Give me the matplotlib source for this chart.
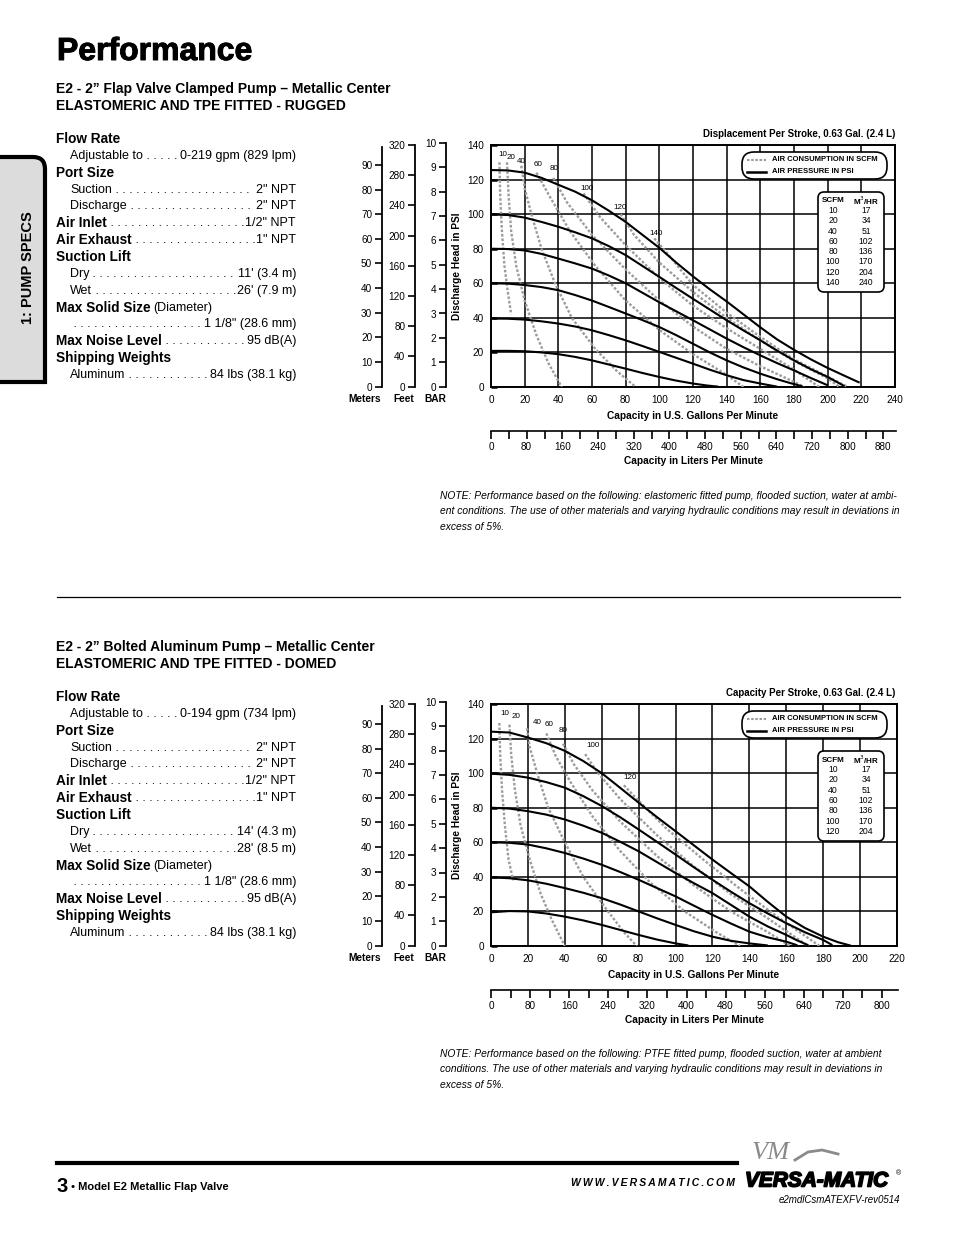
import matplotlib
matplotlib.use("Agg")
import matplotlib.pyplot as plt
import matplotlib.patheffects as pe
from matplotlib.patches import FancyBboxPatch, PathPatch
from matplotlib.path import Path
from matplotlib.ticker import MultipleLocator

W, H = 954, 1235
MAIN = ['Liberation Sans', 'DejaVu Sans']
NARROW = ['Liberation Sans Narrow', 'Liberation Sans', 'DejaVu Sans']
plt.rcParams['font.family'] = MAIN

# ---------------- data ----------------
# pump 1 : E2 flap valve clamped, air pressure curves (gpm, psi)
pump1_psi120 = [(0, 125.5), (10, 125.3), (20, 124), (30, 121), (40, 117), (50, 113), (60, 108), (70, 102),
                (80, 95.5), (90, 88), (100, 80.5), (110, 72), (120, 64), (130, 56.5), (140, 49.5), (150, 42),
                (160, 34.5), (170, 27.5), (180, 21.5), (190, 16), (200, 11), (210, 6.5), (219, 2.5)]
pump1_psi100 = [(0, 99.8), (10, 99.5), (20, 98), (30, 95.5), (40, 92.7), (50, 89.5), (60, 86), (70, 81.5),
                (80, 76.3), (90, 70), (100, 63.7), (110, 57.3), (120, 51), (130, 44.8), (140, 38.6),
                (150, 32.7), (160, 27), (170, 21), (180, 15.4), (190, 10.3), (200, 5.8), (210, 0.5)]
pump1_psi80 = [(0, 80), (10, 79.8), (20, 79), (30, 77), (40, 74.3), (50, 71.5), (60, 68.5), (70, 64.5),
               (80, 60), (90, 54.5), (100, 49), (110, 43.8), (120, 38.6), (130, 33.3), (140, 28),
               (150, 23), (160, 18.3), (170, 13.8), (180, 9.6), (190, 5.2), (200, 1)]
pump1_psi60 = [(0, 60), (10, 59.8), (20, 59), (30, 57.8), (40, 56), (50, 53.2), (60, 50), (70, 46.3),
               (80, 42.5), (90, 38.7), (100, 34.7), (110, 30), (120, 25), (130, 20), (140, 15.4),
               (150, 11.3), (160, 7.7), (170, 4.5), (178, 2.2), (185, 0.4)]
pump1_psi40 = [(0, 39.6), (10, 39.5), (20, 39), (30, 38), (40, 36.7), (50, 35), (60, 32.8), (70, 30),
               (80, 27), (90, 23.7), (100, 20.3), (110, 16.9), (120, 13.5), (130, 10), (140, 6.8),
               (150, 4), (160, 2), (170, 0.2)]
pump1_psi20 = [(0, 20.9), (10, 20.9), (20, 20.7), (30, 20), (40, 19), (50, 17.4), (60, 15.4), (70, 13),
               (80, 10.6), (90, 8.1), (100, 5.8), (110, 3.7), (120, 2), (128, 0.9), (135, 0.2)]
# pump 1 : air consumption curves (gpm, psi)
pump1_scfm10 = [(5, 130), (5.5, 110), (6.5, 90), (8, 70), (10, 55), (12, 42)]
pump1_scfm20 = [(9.5, 130), (10.5, 110), (12, 90), (15, 70), (20, 50), (27, 30), (34, 14), (42, 0)]
pump1_scfm40 = [(18, 128), (20, 115), (24, 100), (30, 80), (38, 60), (48, 40), (62, 22), (75, 9), (86, 0)]
pump1_scfm60 = [(27, 124), (35, 110), (47, 90), (62, 70), (80, 50), (100, 33), (120, 19), (140, 7), (150, 0)]
pump1_scfm80 = [(37, 121), (45, 107), (60, 88), (80, 68), (100, 50), (120, 35), (140, 22), (160, 12),
                (180, 3), (186, 0)]
pump1_scfm100 = [(55, 112), (65, 98), (80, 82), (100, 63), (120, 47), (140, 34), (160, 22), (180, 10), (195, 0)]
pump1_scfm120 = [(77, 100), (85, 88), (100, 72), (120, 55), (140, 40), (160, 27), (180, 15), (200, 5), (207, 0)]
pump1_scfm140 = [(97, 86), (105, 77), (120, 59), (140, 43), (160, 29), (180, 16), (200, 6), (212, 0)]
pump1_scfm_labels = [('10', 4.2, 134.3), ('20', 9.5, 133), ('40', 15.4, 130.2), ('60', 25.5, 128.5),
                     ('80', 35, 126.3), ('100', 53, 115), ('120', 73, 104), ('140', 94, 89)]

# pump 2 : E2 bolted aluminum, air pressure curves (gpm, psi)
pump2_psi120 = [(0, 124), (10, 123.5), (20, 120.6), (30, 117.3), (40, 112.9), (50, 107), (60, 100),
                (70, 91.5), (80, 82.9), (90, 74.5), (100, 66.4), (110, 58.2), (120, 50), (130, 42.2),
                (140, 34.5), (150, 25.5), (160, 17), (170, 10.5), (180, 5.4), (188, 2.2), (195, 0.2)]
pump2_psi100 = [(0, 99.7), (10, 99), (20, 97.4), (30, 94.8), (40, 91.6), (50, 86.7), (60, 81),
                (70, 74.5), (80, 67.4), (90, 60.2), (100, 52.9), (110, 45.5), (120, 38.3), (130, 31.4),
                (140, 24.8), (150, 18.8), (160, 13.2), (170, 8), (180, 3.5), (185, 0.5)]
pump2_psi80 = [(0, 80), (10, 79.5), (20, 78), (30, 76), (40, 73.2), (50, 69.6), (60, 65.5), (70, 60.3),
               (80, 54.8), (90, 48.5), (100, 42.2), (110, 36.3), (120, 30.6), (130, 23.8), (140, 17),
               (150, 11.3), (160, 6.4), (166, 3.2), (172, 0.4)]
pump2_psi60 = [(0, 60), (10, 59.7), (20, 58.7), (30, 56.5), (40, 53.8), (50, 50.6), (60, 47), (70, 42.8),
               (80, 38.3), (90, 33.5), (100, 28.7), (110, 23.3), (120, 18), (130, 13), (140, 8.3),
               (150, 5), (160, 2.5), (166, 0.4)]
pump2_psi40 = [(0, 39.7), (10, 39.2), (20, 38), (30, 36), (40, 33.5), (50, 30.8), (60, 27.7), (70, 24),
               (80, 20), (90, 16), (100, 12.2), (110, 8.5), (120, 5.4), (130, 3), (140, 1.5), (150, 0.3)]
pump2_psi20 = [(0, 19.5), (10, 20.2), (20, 20), (30, 18.8), (40, 17), (50, 14.8), (60, 12.2), (70, 9.3),
               (80, 6.4), (90, 3.7), (100, 1.5), (107, 0.3)]
# pump 2 : air consumption curves (gpm, psi)
pump2_scfm10 = [(4.5, 129), (5, 110), (6, 90), (7.5, 70), (9.5, 50), (12, 38)]
pump2_scfm20 = [(10, 128), (11, 110), (13, 90), (16, 70), (21, 50), (27, 30), (33, 15), (40, 0)]
pump2_scfm40 = [(19.5, 126), (21, 115), (25, 100), (31, 80), (40, 60), (50, 40), (62, 22), (72, 8), (79, 0)]
pump2_scfm60 = [(30, 123), (35, 110), (43, 95), (55, 75), (70, 55), (86, 37), (105, 20), (122, 8), (135, 0)]
pump2_scfm80 = [(39, 117), (45, 105), (55, 90), (70, 72), (90, 52), (110, 35), (130, 20), (150, 8), (162, 0)]
pump2_scfm100 = [(51, 111), (58, 100), (70, 85), (90, 64), (110, 46), (130, 30), (150, 16), (165, 5), (172, 0)]
pump2_scfm120 = [(72, 93), (80, 84), (95, 68), (115, 50), (135, 33), (155, 17), (170, 6), (178, 0)]
pump2_scfm_labels = [('10', 4.9, 134.6), ('20', 11.2, 132.9), ('40', 22.9, 129.4), ('60', 29.3, 128.4),
                     ('80', 36.9, 124.5), ('100', 51.5, 115.8), ('120', 71.7, 97.4)]

# conversion tables
scfm_1 = ['10', '20', '40', '60', '80', '100', '120', '140']
m3hr_1 = ['17', '34', '51', '102', '136', '170', '204', '240']
scfm_2 = scfm_1[:7]
m3hr_2 = m3hr_1[:7]

# specification lists
specs_1 = [('head', 'Flow Rate', None),
           ('item', 'Adjustable to', '0-219 gpm (829 lpm)'),
           ('head', 'Port Size', None),
           ('item', 'Suction', '2" NPT'),
           ('item', 'Discharge', '2" NPT'),
           ('headitem', 'Air Inlet', '1/2" NPT'),
           ('headitem', 'Air Exhaust', '1" NPT'),
           ('head', 'Suction Lift', None),
           ('item', 'Dry', "11' (3.4 m)"),
           ('item', 'Wet', "26' (7.9 m)"),
           ('headnote', 'Max Solid Size', '(Diameter)'),
           ('item', '', '1 1/8" (28.6 mm)'),
           ('headitem', 'Max Noise Level', '95 dB(A)'),
           ('head', 'Shipping Weights', None),
           ('item', 'Aluminum', '84 lbs (38.1 kg)')]
specs_2 = list(specs_1)
specs_2[1] = ('item', 'Adjustable to', '0-194 gpm (734 lpm)')
specs_2[8] = ('item', 'Dry', "14' (4.3 m)")
specs_2[9] = ('item', 'Wet', "28' (8.5 m)")

notes_1 = ["NOTE: Performance based on the following: elastomeric fitted pump, flooded suction, water at ambi-",
           "ent conditions. The use of other materials and varying hydraulic conditions may result in deviations in",
           "excess of 5%."]
notes_2 = ["NOTE: Performance based on the following: PTFE fitted pump, flooded suction, water at ambient",
           "conditions. The use of other materials and varying hydraulic conditions may result in deviations in",
           "excess of 5%."]

GPM_TO_LPM = 3.785

fig = plt.figure(figsize=(W / 100, H / 100), dpi=100)
fig.patch.set_facecolor('white')


def rect(x0, y0, x1, y1):
    # pixel box (y from top) -> figure fraction
    return [x0 / W, 1 - y1 / H, (x1 - x0) / W, (y1 - y0) / H]


def side_scale(x, ybot, ytop, top_val, step, oy):
    a = fig.add_axes(rect(x, ytop + oy, x + 1, ybot + oy))
    a.set_ylim(0, top_val)
    a.set_xticks([])
    for s in ['top', 'right', 'bottom']:
        a.spines[s].set_visible(False)
    a.spines['left'].set_linewidth(1.3)
    a.patch.set_visible(False)
    a.yaxis.set_major_locator(MultipleLocator(step))
    a.tick_params(axis='y', direction='out', length=5, width=1.2, pad=2, labelsize=7.2)
    for t in a.get_yticklabels():
        t.set_family(NARROW)
    return a


def draw_chart(oy, xmax, press, cons, labels):
    x1px = 895 if xmax == 240 else 897
    ax = fig.add_axes(rect(491, 145 + oy, x1px, 387 + oy))
    ax.set_xlim(0, xmax)
    ax.set_ylim(0, 140)
    ax.set_xticks(range(0, xmax + 1, 20))
    ax.set_yticks(range(0, 141, 20))
    ax.grid(True, color='black', lw=1.1)
    ax.set_axisbelow(True)
    for s in ax.spines.values():
        s.set_linewidth(1.4)
    ax.tick_params(axis='x', length=0, pad=6, labelsize=7.2)
    ax.tick_params(axis='y', direction='in', length=4, width=1.8, pad=5, labelsize=7.2)
    for t in ax.get_xticklabels() + ax.get_yticklabels():
        t.set_family(NARROW)
    for c in cons:
        ax.plot([p[0] for p in c], [p[1] for p in c], color='#9c9c9c', lw=1.7,
                ls=(0, (1.1, 0.8)), clip_on=True, zorder=3)
    for c in press:
        ax.plot([p[0] for p in c], [p[1] for p in c], color='black', lw=1.5, zorder=4,
                solid_capstyle='butt')
    for s, x, y in labels:
        ax.text(x, y, s, fontsize=5.8, family=NARROW, ha='left', va='center', zorder=5)
    ax.set_ylabel('Discharge Head in PSI', fontsize=7.3, fontweight='bold', family=NARROW, labelpad=4)
    ax.set_xlabel('Capacity in U.S. Gallons Per Minute', fontsize=7.3, fontweight='bold',
                  family=NARROW, labelpad=4)
    # liters per minute axis
    la = fig.add_axes(rect(491, 430 + oy, x1px + 1, 431 + oy))
    la.set_xlim(0, xmax * GPM_TO_LPM)
    la.set_yticks([])
    for s in ['top', 'left', 'right']:
        la.spines[s].set_visible(False)
    la.spines['bottom'].set_linewidth(1.2)
    la.patch.set_visible(False)
    la.xaxis.set_major_locator(MultipleLocator(80))
    la.xaxis.set_minor_locator(MultipleLocator(40))
    la.tick_params(axis='x', which='both', direction='out', length=6, width=1.2, pad=2, labelsize=7.2)
    for t in la.get_xticklabels():
        t.set_family(NARROW)
    la.set_xlabel('Capacity in Liters Per Minute', fontsize=7.3, fontweight='bold', family=NARROW, labelpad=3)
    # meters / feet / bar scales
    side_scale(382, 386.7, 146.7, 97.4, 10, oy)
    side_scale(415, 386.7, 145, 320, 40, oy)
    side_scale(446, 386.7, 142.7, 10, 1, oy)
    return ax


draw_chart(0, 240,
           [pump1_psi120, pump1_psi100, pump1_psi80, pump1_psi60, pump1_psi40, pump1_psi20],
           [pump1_scfm10, pump1_scfm20, pump1_scfm40, pump1_scfm60, pump1_scfm80, pump1_scfm100,
            pump1_scfm120, pump1_scfm140],
           pump1_scfm_labels)
draw_chart(559, 220,
           [pump2_psi120, pump2_psi100, pump2_psi80, pump2_psi60, pump2_psi40, pump2_psi20],
           [pump2_scfm10, pump2_scfm20, pump2_scfm40, pump2_scfm60, pump2_scfm80, pump2_scfm100,
            pump2_scfm120],
           pump2_scfm_labels)

# overlay for page text and decorations (pixel coordinates, y down)
ov = fig.add_axes([0, 0, 1, 1])
ov.set_xlim(0, W)
ov.set_ylim(H, 0)
ov.axis('off')


def txt(x, y, s, size=8.5, weight='normal', ha='left', va='center', fam=MAIN, style='normal', **kw):
    return ov.text(x, y, s, fontsize=size, fontweight=weight, ha=ha, va=va, family=fam,
                   style=style, **kw)


heavy = [pe.withStroke(linewidth=0.7, foreground='black')]
txt(57, 52, 'Performance', size=23, weight='bold', path_effects=heavy)

# side tab
tab = Path([(-5, 157), (33, 157), (45, 157), (45, 169), (45, 382), (-5, 382)],
           [Path.MOVETO, Path.LINETO, Path.CURVE3, Path.CURVE3, Path.LINETO, Path.LINETO])
ov.add_patch(PathPatch(tab, facecolor='#dcdcdc', edgecolor='black', lw=3))
txt(28, 268, '1: PUMP SPECS', size=10.5, weight='bold', ha='center', rotation=90)

leaders = []


def spec_block(oy, title1, title2, specs):
    txt(56, 89 + oy, title1, size=10, weight='bold')
    txt(56, 106 + oy, title2, size=10, weight='bold')
    y = 139 + oy
    for kind, label, value in specs:
        if kind == 'head':
            txt(56, y, label, size=9.8, weight='bold')
        elif kind == 'headnote':
            t = txt(56, y, label, size=9.8, weight='bold')
            leaders.append(('note', t, value, y))
        elif kind == 'headitem':
            t = txt(56, y, label, size=9.8, weight='bold')
            v = txt(296, y, value, size=9, ha='right', fam=NARROW)
            leaders.append(('dots', t, v, y))
        else:
            t = txt(70, y, label, size=9, fam=NARROW) if label else None
            v = txt(296, y, value, size=9, ha='right', fam=NARROW)
            leaders.append(('dots', t, v, y))
        y += 16.86


spec_block(0, 'E2 - 2\u201d Flap Valve Clamped Pump \u2013 Metallic Center',
           'ELASTOMERIC AND TPE FITTED - RUGGED', specs_1)
spec_block(558, 'E2 - 2\u201d Bolted Aluminum Pump \u2013 Metallic Center',
           'ELASTOMERIC AND TPE FITTED - DOMED', specs_2)

r = fig.canvas.get_renderer()
probe = txt(0, -50, ' .' * 20, size=9, fam=NARROW)
unit = probe.get_window_extent(r).width / 20
probe.remove()
for kind, t, v, y in leaders:
    if kind == 'note':
        x0 = t.get_window_extent(r).x1
        txt(x0 + 3, y, v, size=9, fam=NARROW)
        continue
    x0 = t.get_window_extent(r).x1 if t is not None else 70
    x1 = v.get_window_extent(r).x0
    n = int((x1 - x0) / unit)
    if n > 0:
        txt(x0, y, ' .' * n, size=9, fam=NARROW)


def chart_extras(oy, head, scfm, m3, box_bottom):
    txt(895, 134 + oy, head, size=7, weight='bold', ha='right', fam=NARROW)
    lg = FancyBboxPatch((742, 152 + oy), 145, 27, boxstyle='round,pad=0,rounding_size=12',
                        facecolor='white', edgecolor='black', lw=1.2, zorder=5)
    ov.add_patch(lg)
    ov.plot([747, 766], [159.5 + oy, 159.5 + oy], color='#9c9c9c', lw=1.5, ls=(0, (1.2, 0.8)), zorder=6)
    ov.plot([747, 766], [171.5 + oy, 171.5 + oy], color='black', lw=1.8, zorder=6)
    txt(772, 159.5 + oy, 'AIR CONSUMPTION IN SCFM', size=5.5, weight='bold', fam=NARROW, zorder=6)
    txt(772, 171.5 + oy, 'AIR PRESSURE IN PSI', size=5.5, weight='bold', fam=NARROW, zorder=6)
    tb = FancyBboxPatch((818, 192 + oy), 66, box_bottom - 192, boxstyle='round,pad=0,rounding_size=6',
                        facecolor='white', edgecolor='black', lw=1.2, zorder=5)
    ov.add_patch(tb)
    txt(833, 201 + oy, 'SCFM', size=5.8, weight='bold', ha='center', fam=NARROW, zorder=6)
    txt(866, 201 + oy, 'M$^{3}$/HR', size=5.8, weight='bold', ha='center', fam=NARROW, zorder=6)
    for i, (a, b) in enumerate(zip(scfm, m3)):
        yy = 210.5 + oy + i * 10.3
        txt(833, yy, a, size=6.2, ha='center', fam=NARROW, zorder=6)
        txt(866, yy, b, size=6.2, ha='center', fam=NARROW, zorder=6)
    for lbl, xx in [('Meters', 365), ('Feet', 404), ('BAR', 435)]:
        txt(xx, 399 + oy, lbl, size=7.3, weight='bold', ha='center', fam=NARROW)


chart_extras(0, 'Displacement Per Stroke, 0.63 Gal. (2.4 L)', scfm_1, m3hr_1, 292)
chart_extras(559, 'Capacity Per Stroke, 0.63 Gal. (2.4 L)', scfm_2, m3hr_2, 282)

for i, line in enumerate(notes_1):
    txt(440, 496 + i * 15.5, line, size=7.4, style='italic', fam=NARROW)
for i, line in enumerate(notes_2):
    txt(440, 1054 + i * 15.5, line, size=7.4, style='italic', fam=NARROW)

ov.plot([57, 900], [597, 597], color='black', lw=0.9)

# footer
ov.plot([57, 737], [1163, 1163], color='black', lw=3)
txt(57, 1186, '3', size=14.5, weight='bold')
txt(68, 1187, ' \u2022 Model E2 Metallic Flap Valve', size=8, weight='bold', fam=NARROW)
txt(735, 1183, '\u2009'.join('WWW.VERSAMATIC.COM'), size=7.5, weight='bold', style='italic', ha='right',
    fam=['Liberation Sans', 'DejaVu Sans'])
txt(745, 1181, 'VERSA-MATIC', size=15, weight='bold', style='italic',
    path_effects=[pe.withStroke(linewidth=1.2, foreground='black')])
txt(896, 1174, '\u00ae', size=5)
txt(752, 1153, 'VM', size=19, style='italic', color='#8a8a8a', fam=['Liberation Serif', 'DejaVu Serif'])
ov.plot([795, 808, 822, 838], [1160, 1152, 1150, 1154], color='#8a8a8a', lw=2)
txt(900, 1200, 'e2mdlCsmATEXFV-rev0514', size=7, style='italic', ha='right', fam=NARROW)

fig.savefig('out.png', dpi=100)
